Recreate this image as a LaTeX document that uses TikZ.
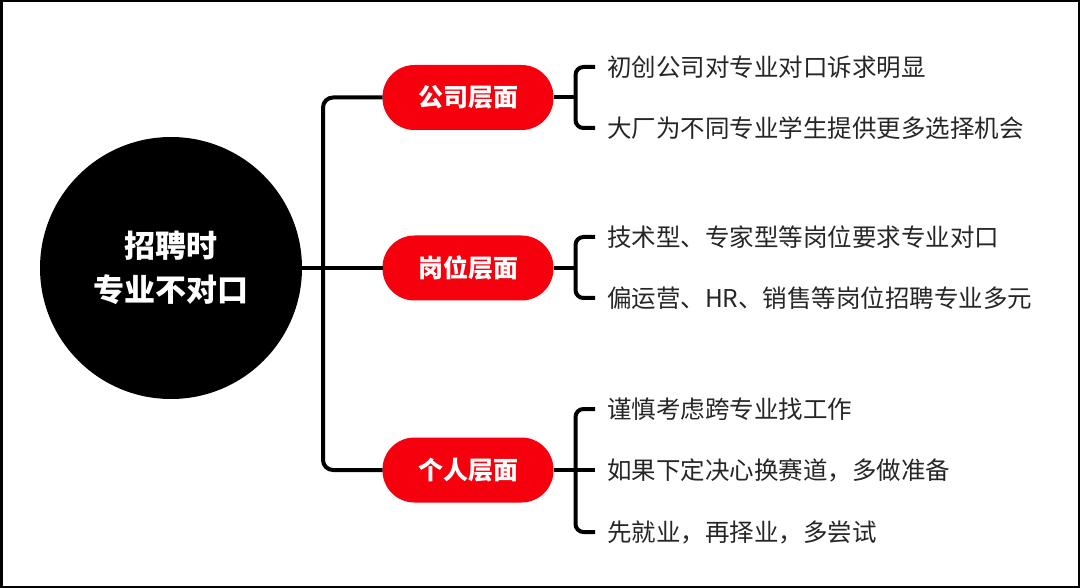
\documentclass[tikz,border=0pt]{standalone}
\usepackage{fontspec}
\setmainfont{Noto Sans CJK SC}
\definecolor{pillred}{RGB}{245,0,12}
\definecolor{leafgray}{RGB}{38,38,38}

\begin{document}
\begin{tikzpicture}[x=1pt, y=-1pt, line width=4pt,
  pill/.style={fill=pillred, text=white, rounded corners=32pt, outer sep=0pt,
    minimum width=171pt, minimum height=65pt, font=\fontsize{25}{30}\selectfont\bfseries},
  leaf/.style={anchor=west, inner xsep=12pt, inner ysep=0pt, outer sep=0pt,
    text=leafgray, font=\fontsize{24.5}{28}\selectfont}]

  % 1. Canvas and frame
  \useasboundingbox (0,0) rectangle (1080,588);
  \draw[line width=2.5pt] (1.25,1.25) rectangle (1078.75,586.75);

  % 2. Root circle
  \node[circle, fill=black, minimum size=262pt, inner sep=0pt, outer sep=0pt,
    text=white, align=center, font=\fontsize{31}{44}\selectfont\bfseries]
    (root) at (171,268) {招聘时\\专业不对口};

  % 3. Red pills, one per level
  \foreach \n/\y/\name in {1/97.5/公司层面, 2/268/岗位层面, 3/470/个人层面} {
    \node[pill] (p\n) at (468,\y) {\name};
  }

  % 4. Trunk from the circle to the pills
  \draw (root.east) -- (p2.west);
  \draw[rounded corners=10pt] (p1.west) -| ([xshift=21pt]root.east) |- (p3.west);

  % 5. Leaf texts
  \foreach \n/\y/\txt in {11/67/初创公司对专业对口诉求明显,
                          12/128/大厂为不同专业学生提供更多选择机会,
                          21/237/技术型、专家型等岗位要求专业对口,
                          22/298/偏运营、HR、销售等岗位招聘专业多元,
                          31/409/谨慎考虑跨专业找工作,
                          32/470/如果下定决心换赛道，多做准备,
                          33/532/先就业，再择业，多尝试} {
    \node[leaf] (t\n) at (595,\y) {\txt};
  }

  % 6. Brackets from the pills to the leaves
  \foreach \g in {1,2,3} {
    \draw (p\g.east) -- ++(22,0) coordinate (b\g);
  }
  \draw[rounded corners=8pt] (t11.west) -| (b1) |- (t12.west);
  \draw[rounded corners=8pt] (t21.west) -| (b2) |- (t22.west);
  \draw[rounded corners=8pt] (t31.west) -| (b3) |- (t33.west);
  \draw (b3) -- (t32.west);

\end{tikzpicture}
\end{document}
